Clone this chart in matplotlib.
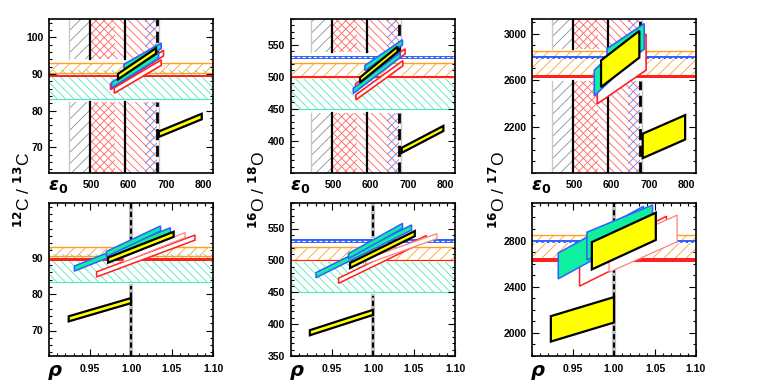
import matplotlib
matplotlib.use("Agg")
import matplotlib.pyplot as plt
from matplotlib.patches import Polygon
from matplotlib.ticker import FixedLocator, MultipleLocator, FormatStrFormatter

plt.rcParams["font.family"] = ["Liberation Sans", "DejaVu Sans"]
plt.rcParams["font.weight"] = "bold"
plt.rcParams["mathtext.fontset"] = "dejavusans"
plt.rcParams["hatch.linewidth"] = 0.6

# ---- values ----
eps_lim = (388, 825)
rho_lim = (0.90, 1.10)
eps_ticks = [500, 600, 700, 800]
rho_ticks = [0.95, 1.00, 1.05, 1.10]

ylims = [(63, 105), (350, 590), (1800, 3125)]
yticks_top = [[70, 80, 90, 100], [400, 450, 500, 550], [2200, 2600, 3000]]
yticks_bot = [[70, 80, 90], [350, 400, 450, 500, 550], [2000, 2400, 2800]]
yminor = [2, 10, 100]
ylabels = [r"$^{12}$C / $^{13}$C", r"$^{16}$O / $^{18}$O", r"$^{16}$O / $^{17}$O"]

# horizontal bands (low, high)
orange_band = [(90.4, 93.0), (500, 521), (2635, 2850)]
cyan_band = [(83.2, 91.0), (450, 497), None]
red_band = [(89.1, 89.8), (498.5, 501), (2615, 2645)]
blue_band = [None, (528, 533), (2777, 2805)]
# y range where the vertical markers are left out
gap = [(82.3, 94.2), (444, 539), (2591, 2871)]

# eps0 constraints (top row)
eps_gray = (441, 497)
eps_red_x = (497, 564)
eps_red = (497, 676)
eps_blue = (644, 676)
eps_solid = [497, 591]
eps_dash = 677
eps_edge = [441, 681]

# bars: (x_left, x_right, y_left, y_right, half height)
c_eps_red = [(552, 693, 86.5, 95.7, 0.75), (562, 687, 85.5, 93.1, 0.75)]
c_eps_blue = [(555, 680, 87.0, 95.0, 0.75), (588, 687, 91.9, 97.7, 0.75)]
c_eps_yel = [(572, 673, 89.3, 96.3, 0.75), (681, 795, 73.6, 78.4, 0.75)]

c_rho_red = [(0.958, 1.078, 85.4, 95.5, 0.7), (0.991, 1.066, 89.5, 96.2, 0.7)]
c_rho_blue = [(0.931, 1.048, 87.0, 97.5, 0.7), (0.970, 1.036, 91.0, 98.0, 0.7)]
c_rho_yel = [(0.972, 1.052, 89.3, 96.4, 0.7), (0.924, 1.000, 73.2, 78.2, 0.7)]

o18_eps_red = [(560, 692, 485, 539.5, 4), (561, 686, 468, 521, 4)]
o18_eps_blue = [(554, 679, 478, 534, 4), (585, 685, 513.5, 553.6, 4)]
o18_eps_yel = [(572, 672, 495, 543, 4), (683, 794, 385.4, 419.4, 4)]

o18_rho_red = [(0.958, 1.065, 468, 535, 4), (0.991, 1.078, 498, 538, 4)]
o18_rho_blue = [(0.9305, 1.047, 476.8, 551.5, 4), (0.970, 1.036, 506.7, 554, 4)]
o18_rho_yel = [(0.972, 1.051, 492, 542, 4), (0.923, 1.000, 386.5, 418.4, 4)]

o17_eps_red = [(562, 692, 2550, 2840, 155)]
o17_eps_blue = [(554, 680, 2574, 2960, 110), (588, 687, 2760, 2975, 110)]
o17_eps_yel = [(572, 674, 2654, 2908, 115), (683, 796, 2033, 2193, 105)]

o17_rho_red = [(0.958, 1.064, 2520, 2895, 115), (0.994, 1.077, 2640, 2905, 115)]
o17_rho_blue = [(0.932, 1.036, 2580, 2985, 112), (0.967, 1.047, 2752, 2988, 120)]
o17_rho_yel = [(0.973, 1.051, 2668, 2923, 118), (0.923, 1.000, 2035, 2200, 110)]

top_bars = [(c_eps_red, c_eps_blue, c_eps_yel),
            (o18_eps_red, o18_eps_blue, o18_eps_yel),
            (o17_eps_red, o17_eps_blue, o17_eps_yel)]
bot_bars = [(c_rho_red, c_rho_blue, c_rho_yel),
            (o18_rho_red, o18_rho_blue, o18_rho_yel),
            (o17_rho_red, o17_rho_blue, o17_rho_yel)]

ORANGE = "#FFA020"
CYAN = "#50E8C0"
RED = "#FF2020"
BLUE = "#3060FF"
GREEN = "#10EEA0"


def bar(ax, b, fc, ec, lw, z):
    x0, x1, y0, y1, h = b
    pts = [(x0, y0 - h), (x1, y1 - h), (x1, y1 + h), (x0, y0 + h)]
    ax.add_patch(Polygon(pts, closed=True, facecolor=fc, edgecolor=ec, lw=lw, zorder=z))


def hbands(ax, col):
    if cyan_band[col]:
        lo, hi = cyan_band[col]
        ax.axhspan(lo, hi, facecolor="none", edgecolor=CYAN, hatch="\\\\\\\\", lw=0, zorder=1)
        ax.axhline(lo, color=CYAN, lw=0.8, zorder=1)
    lo, hi = orange_band[col]
    ax.axhspan(lo, hi, facecolor="none", edgecolor=ORANGE, hatch="///", lw=0, zorder=1.5)
    ax.axhline(lo, color=ORANGE, lw=1.0, zorder=1.5)
    ax.axhline(hi, color=ORANGE, lw=1.0, zorder=1.5)
    lo, hi = red_band[col]
    ax.axhspan(lo, hi, color=RED, lw=0, zorder=2)
    if blue_band[col]:
        lo, hi = blue_band[col]
        ax.axhspan(lo, hi, color=BLUE, lw=0, zorder=2)
        ax.axhline((lo + hi) / 2, color="white", lw=0.8, dashes=(3, 2), zorder=2)


def pieces(ax, col):
    ylo, yhi = ax.get_ylim()
    return [(ylo, gap[col][0]), (gap[col][1], yhi)]


def vband(ax, col, x0, x1, color, hatch):
    for a, b in pieces(ax, col):
        ax.fill_betweenx([a, b], x0, x1, facecolor="none", edgecolor=color,
                         hatch=hatch, lw=0, zorder=1)


def vline(ax, col, x, **kw):
    for a, b in pieces(ax, col):
        ax.plot([x, x], [a, b], **kw)


def style(ax, col, bottom):
    ax.set_ylim(*ylims[col])
    ax.yaxis.set_major_locator(FixedLocator(yticks_bot[col] if bottom else yticks_top[col]))
    ax.yaxis.set_minor_locator(MultipleLocator(yminor[col]))
    ax.tick_params(axis="y", which="both", direction="in", left=True, right=True,
                   labelsize=7.5, width=0.8, pad=4)
    ax.tick_params(axis="y", which="major", length=5)
    ax.tick_params(axis="y", which="minor", length=2.5)
    for s in ax.spines.values():
        s.set_linewidth(1.2)


fig = plt.figure(figsize=(7.72, 3.86), dpi=100)
lefts = [49, 291, 532]

for col in range(3):
    # ---- top row: against eps0 ----
    ax = fig.add_axes([lefts[col] / 772, 1 - 173 / 386, 164 / 772, 154 / 386])
    style(ax, col, False)
    ax.set_xlim(*eps_lim)
    ax.set_xticks(eps_ticks)
    ax.tick_params(axis="x", which="both", length=0, labelsize=7.5, pad=5)
    hbands(ax, col)
    vband(ax, col, *eps_gray, "#909090", "///")
    vband(ax, col, *eps_red_x, "#FF6060", "////")
    vband(ax, col, *eps_red, "#FF6060", "\\\\\\\\")
    vband(ax, col, *eps_blue, "#6080FF", "////")
    for x in eps_edge:
        vline(ax, col, x, color="#C8C8C8", lw=1.0, zorder=1.8)
    for x in eps_solid:
        vline(ax, col, x, color="black", lw=1.6, zorder=2)
    vline(ax, col, eps_dash, color="black", lw=2.0, dashes=(4, 2), zorder=2)
    reds, blues, yels = top_bars[col]
    for b in reds:
        bar(ax, b, "white", RED, 1.2, 3)
    for b in blues:
        bar(ax, b, GREEN, BLUE, 1.2, 4)
    for b in yels:
        bar(ax, b, "yellow", "black", 1.6, 5)
    ax.text(0.055, -0.09, r"$\epsilon_0$", transform=ax.transAxes,
            fontsize=13, ha="center", va="center")

    # ---- bottom row: against rho ----
    ax = fig.add_axes([lefts[col] / 772, 1 - 356 / 386, 164 / 772, 153 / 386])
    style(ax, col, True)
    ax.set_xlim(*rho_lim)
    ax.set_xticks(rho_ticks)
    ax.xaxis.set_major_formatter(FormatStrFormatter("%.2f"))
    ax.xaxis.set_minor_locator(MultipleLocator(0.01))
    ax.tick_params(axis="x", which="both", direction="in", top=True, bottom=True,
                   labelsize=7.5, width=0.8, pad=6)
    ax.tick_params(axis="x", which="major", length=5)
    ax.tick_params(axis="x", which="minor", length=2.5)
    hbands(ax, col)
    vline(ax, col, 1.0, color="#C0C0C0", lw=3, zorder=1.8)
    vline(ax, col, 1.0, color="black", lw=1.5, dashes=(2.5, 1.5), zorder=2)
    reds, blues, yels = bot_bars[col]
    for i, b in enumerate(reds):
        if i == 0:
            bar(ax, b, "white", RED, 1.1, 3)
        else:
            bar(ax, b, "white", "#FF8080", 0.9, 3)
    for b in blues:
        bar(ax, b, GREEN, BLUE, 1.1, 4)
    for b in yels:
        bar(ax, b, "yellow", "black", 1.6, 5)
    ax.text(0.036, -0.105, r"$\rho$", transform=ax.transAxes,
            fontsize=14, ha="center", va="center")

ylab_x = [23, 258, 498]
for col in range(3):
    fig.text(ylab_x[col] / 772, 1 - 190 / 386, ylabels[col], rotation=90,
             fontsize=12.5, fontweight="normal", ha="center", va="center")

fig.savefig("out.png", dpi=100)
